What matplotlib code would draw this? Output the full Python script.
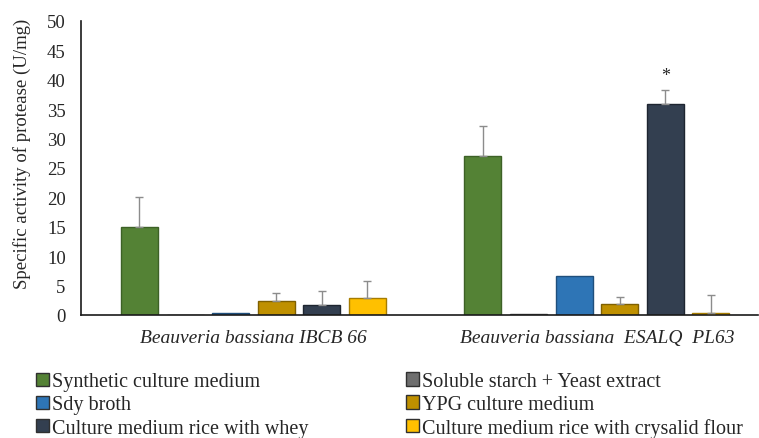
import matplotlib
matplotlib.use("Agg")
import matplotlib.pyplot as plt
import numpy as np
from matplotlib.patches import Patch

# Strains (groups on the x axis)
strains = ["Beauveria bassiana IBCB 66", "Beauveria bassiana  ESALQ  PL63"]

# Culture media (one bar per medium within each strain)
media = [
    "Synthetic culture medium",
    "Soluble starch + Yeast extract",
    "Sdy broth",
    "YPG culture medium",
    "Culture medium rice with whey",
    "Culture medium rice with crysalid flour",
]
colors = ["#548235", "#6e6e6e", "#2e75b6", "#bf9000", "#333f50", "#ffc000"]
edges = ["#3d6126", "#4a4a4a", "#1f4f7c", "#7f6000", "#1e2530", "#a67c00"]

# Specific activity (U/mg): rows = media, columns = strains
activity = [
    [14.9, 27.0],
    [0.0, 0.1],
    [0.3, 6.7],
    [2.4, 1.9],
    [1.75, 35.9],
    [2.9, 0.35],
]
# Upper error (standard deviation)
sd = [
    [5.1, 5.1],
    [0.0, 0.0],
    [0.0, 0.0],
    [1.3, 1.1],
    [2.4, 2.4],
    [2.8, 3.0],
]
# Significance marker: (medium index, strain index)
signif = (4, 1)

plt.rcParams["font.family"] = ["Liberation Serif", "DejaVu Serif"]
text_color = "#262626"

fig = plt.figure(figsize=(7.59, 4.39), dpi=100)
ax = fig.add_axes([81 / 759, 1 - 316 / 439, (758 - 81) / 759, (316 - 22) / 439])

x = np.arange(len(strains))
step = 0.1328
width = 0.1077
n = len(media)
for i in range(n):
    pos = x + (i - (n - 1) / 2) * step
    vals = np.array(activity[i])
    errs = np.array(sd[i])
    ax.bar(pos, vals, width=width, color=colors[i], edgecolor=edges[i],
           linewidth=1.0, zorder=2)
    has_err = errs > 0
    if has_err.any():
        ax.errorbar(pos[has_err], vals[has_err],
                    yerr=[np.zeros(has_err.sum()), errs[has_err]],
                    fmt="none", ecolor="#8c8c8c", elinewidth=1.0,
                    capsize=3, capthick=1.0, zorder=3)

mi, si = signif
ax.text(x[si] + (mi - (n - 1) / 2) * step,
        activity[mi][si] + sd[mi][si] + 2.5, "*",
        ha="center", va="center", fontsize=13, color=text_color)

ax.set_ylim(0, 50)
ax.set_yticks(np.arange(0, 51, 5))
ax.set_xlim(-0.502, 1.469)
ax.set_xticks(x)
ax.set_xticklabels(strains, fontstyle="italic", fontsize=14, color=text_color)
ax.tick_params(axis="x", length=0, pad=10)
ax.tick_params(axis="y", length=0, pad=11, labelsize=13.5, labelcolor=text_color)

for s in ["top", "right"]:
    ax.spines[s].set_visible(False)
for s in ["left", "bottom"]:
    ax.spines[s].set_linewidth(1.2)
    ax.spines[s].set_color("#1a1a1a")

fig.text(22 / 759, 1 - 154 / 439, "Specific activity of protease (U/mg)",
         rotation=90, ha="center", va="center", fontsize=13.5, color=text_color)

handles = [Patch(facecolor=colors[i], edgecolor="#303030", linewidth=1.0)
           for i in range(n)]
leg_kw = dict(frameon=False, fontsize=14.5, handlelength=0.63, handleheight=0.63,
              handletextpad=0.15, labelspacing=0.2, borderpad=0, borderaxespad=0,
              loc="center left", labelcolor=text_color)
fig.legend([handles[0], handles[2], handles[4]],
           [media[0], media[2], media[4]],
           bbox_to_anchor=(36 / 759, 1 - 406 / 439), **leg_kw)
fig.legend([handles[1], handles[3], handles[5]],
           [media[1], media[3], media[5]],
           bbox_to_anchor=(406 / 759, 1 - 406 / 439), **leg_kw)

fig.savefig("out.png", dpi=100)
